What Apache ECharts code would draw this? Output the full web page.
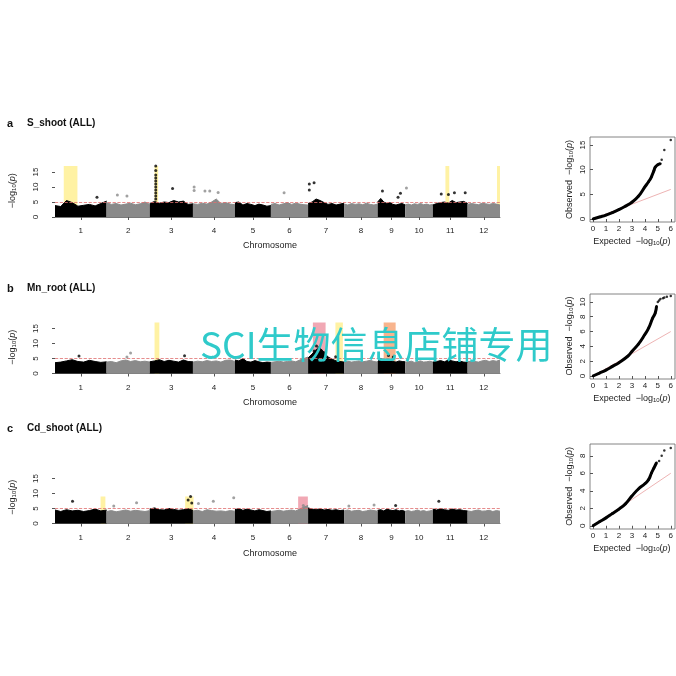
<!DOCTYPE html>
<html>
<head>
<meta charset="utf-8">
<script src="https://cdn.jsdelivr.net/npm/echarts@6/dist/echarts.min.js"></script>
<style>html,body{margin:0;background:#fff}#main{width:676px;height:676px}</style>
</head>
<body>
<div id="main"></div>
<script>
// chromosome lengths (Mb) and labels
const chrNames = ['1','2','3','4','5','6','7','8','9','10','11','12'];
const chrLen = [43, 36, 36, 35, 30, 31, 30, 28, 23, 23, 29, 27];

// top envelope of the dense point band, per chromosome (-log10 p)
const bandA = [
  [3.8,3.5,5.5,4.8,3.6,3.9,4.2,3.7,4.5,5.3],
  [4.8,4.2,4.5,4.0,4.3,4.6,4.1,4.4,5.0,4.2],
  [4.5,5.2,4.6,5.0,4.8,5.5,5.0,5.3,4.2,4.4],
  [4.4,4.2,4.6,4.3,5.0,6.0,4.5,4.8,4.3,4.1],
  [4.8,5.0,4.0,4.5,4.2,3.8,4.3,4.0,3.6,3.8],
  [4.2,4.5,4.0,4.4,4.8,4.2,4.6,4.3,4.1,4.0],
  [4.5,5.0,6.0,5.5,4.8,4.2,4.5,4.0,4.3,4.6],
  [4.3,4.0,4.5,4.2,4.4,4.1,4.6,4.2,4.0,4.3],
  [5.0,6.2,5.0,4.5,4.8,4.2,4.0,4.3,4.5,4.0],
  [4.1,4.3,4.0,4.4,4.2,4.5,4.1,4.3,4.0,4.2],
  [4.0,4.5,4.8,5.0,4.6,5.5,4.8,5.0,5.2,4.5],
  [4.2,4.5,4.3,4.1,4.6,4.4,4.2,4.5,4.3,4.0]
];
const bandB = [
  [3.6,3.8,4.2,4.6,4.0,3.8,4.4,4.0,3.7,3.9],
  [3.8,4.0,3.6,4.2,4.5,4.0,4.3,3.9,4.1,3.8],
  [3.9,4.2,4.6,4.0,4.4,4.1,3.8,4.5,4.0,3.9],
  [3.8,4.1,3.9,4.3,4.0,4.2,3.8,4.4,4.5,4.0],
  [4.5,4.2,5.0,4.0,3.8,4.3,3.9,3.6,3.8,3.7],
  [3.7,3.9,4.1,3.8,4.0,4.2,3.9,4.5,5.0,5.5],
  [5.2,6.5,8.0,8.5,7.0,5.5,4.8,4.2,4.0,3.8],
  [3.9,4.1,3.8,4.0,4.2,3.9,4.1,4.4,4.0,3.8],
  [4.0,5.0,4.5,4.2,4.6,4.0,3.8,4.2,4.0,3.9],
  [3.8,3.9,4.1,3.7,4.0,4.2,3.8,3.9,4.1,3.8],
  [3.8,4.0,4.3,3.9,4.5,4.2,3.9,4.1,3.8,3.7],
  [3.9,4.1,4.0,3.8,4.2,4.4,4.0,4.3,4.1,4.5]
];
const bandC = [
  [4.5,4.0,4.6,4.2,4.4,4.0,4.3,4.8,4.2,4.5],
  [4.0,4.3,3.9,4.2,4.5,4.1,4.4,4.2,4.0,4.3],
  [4.8,5.2,4.6,4.5,5.0,4.7,4.4,4.6,4.9,4.4],
  [4.2,4.4,4.0,4.6,4.3,4.1,4.2,4.0,4.3,4.1],
  [4.6,5.0,4.4,4.8,4.5,4.2,4.6,4.3,4.0,4.2],
  [4.0,4.2,4.4,4.1,4.3,4.5,4.2,4.8,5.5,6.0],
  [5.2,4.8,4.6,4.9,4.5,4.7,4.4,4.6,4.3,4.5],
  [4.2,4.5,4.1,4.3,4.4,4.0,4.2,4.5,4.3,4.1],
  [4.4,4.6,4.2,4.8,4.5,4.3,4.6,4.2,4.4,4.0],
  [4.1,4.3,4.0,4.2,4.5,4.1,4.3,4.0,4.2,4.4],
  [4.8,4.5,5.0,4.6,4.4,4.8,4.5,4.6,4.3,4.2],
  [4.2,4.0,4.3,4.5,4.1,4.2,4.4,4.0,4.3,4.1]
];

// isolated significant points [cumulative Mb, -log10 p]
const hitsA = [[35,6.6],[52,7.3],[60,7.0],[84,17],[84,15.5],[84,14],[84,13],[84,12],[84,11],[84,10],[84,9],[84,8],[84,7],[84,6],
  [98,9.5],[116,10],[116,8.8],[125,8.7],[129,8.7],[136,8.2],[191,8.1],[212,11],[216,11.4],[212,9],[273,8.7],[288,7.9],[286,6.6],[293,9.7],
  [322,7.7],[333,8.1],[342,8.1],[328,7.5]];
const hitsB = [[20,5.8],[60,5.5],[63,6.8],[108,5.9],[216,7.5],[218,9.2],[220,8.6],[222,7.6],[224,7.0],[219,6.5],[217,6.2],[234,5.6],[278,6.0],[282,5.5]];
const hitsC = [[14.6,7.4],[49,5.8],[68,6.9],[113,9.0],[111,7.8],[114,6.8],[119.6,6.7],[132,7.4],[149,8.6],[207,6.0],[245,5.8],[266,6.2],[284,6.0],[320,7.4]];

// highlighted regions [from Mb, to Mb, top, colour]
const boxesA = [[7.3,18.7,17,'y'],[83,86,17,'y'],[325.5,328.7,17,'y'],[368.5,371,17,'y']];
const boxesB = [[83,87,17,'y'],[215,225.6,17,'p'],[233.8,240,17,'y'],[274,284,17,'o']];
const boxesC = [[38,42,9,'y'],[108.5,115.5,9,'y'],[202.7,210.8,9,'p']];

// QQ plots [expected, observed]
const qqA = [[0,0],[0.5,0.4],[1,0.8],[1.5,1.3],[2,1.9],[2.5,2.6],[3,3.4],[3.5,4.6],[4,6.5],[4.3,7.6],[4.5,8.5],[4.7,9.8],[4.8,10.5],[5,11],[5.2,11.2]];
const qqAtop = [[5.3,12],[5.5,14],[6,16]];
const qqB = [[0,0],[0.5,0.4],[1,0.8],[1.5,1.3],[2,1.8],[2.7,2.7],[3,3.3],[3.5,4.3],[4,5.6],[4.3,6.5],[4.6,7.8],[4.8,8.5],[4.9,9.4]];
const qqBtop = [[5,10],[5.1,10.2],[5.2,10.4],[5.4,10.5],[5.5,10.6],[5.7,10.7],[6,10.8]];
const qqC = [[0,0],[0.5,0.45],[1,0.9],[1.5,1.4],[2,1.9],[2.5,2.5],[3,3.4],[3.5,4.2],[4,4.8],[4.3,5.3],[4.5,6],[4.7,6.6],[4.9,7.2]];
const qqCtop = [[5.1,7.4],[5.3,8],[5.5,8.6],[6,8.9]];

const chrStart = [];
chrLen.reduce((s, l, i) => { chrStart[i] = s; return s + l; }, 0);
const total = chrStart[11] + chrLen[11];
const centers = chrLen.map((l, i) => chrStart[i] + l / 2);
const chrOf = x => { let k = 0; chrStart.forEach((s, i) => { if (x >= s) k = i; }); return k; };
const colOf = i => (i % 2 === 0 ? '#000' : '#8a8a8a');
const boxCol = {y: 'rgba(255,232,90,0.55)', p: 'rgba(232,110,130,0.6)', o: 'rgba(245,140,80,0.65)'};
const font = 'Liberation Sans';

const manTops = [164.5, 321, 471];
const qqTops = [140, 296, 447];
const qqH = [79, 80, 78.75];
const qqMax = [16, 10.8, 9];
const qqTicks = [[0,5,10,15],[0,2,4,6,8,10],[0,2,4,6,8]];
const bands = [bandA, bandB, bandC];
const hits = [hitsA, hitsB, hitsC];
const boxes = [boxesA, boxesB, boxesC];
const qqs = [[qqA, qqAtop], [qqB, qqBtop], [qqC, qqCtop]];

let grid = [], xAxis = [], yAxis = [], series = [], graphic = [];
const sub = {sub: {fontSize: 6, verticalAlign: 'bottom', fontFamily: font, color: '#222'}, i: {fontStyle: 'italic', fontSize: 9, fontFamily: font, color: '#222'}};

for (let p = 0; p < 3; p++) {
  const g = grid.length;
  grid.push({left: 43, width: 457, top: manTops[p], height: 52.5});
  xAxis.push({type: 'value', gridIndex: g, min: 0, max: total, offset: 6,
    axisLine: {lineStyle: {color: '#555', width: 0.8}},
    axisTick: {customValues: centers, length: 3, lineStyle: {color: '#555'}},
    axisLabel: {customValues: centers, formatter: v => chrNames[centers.findIndex(c => Math.abs(c - v) < 0.01)], fontSize: 8, color: '#222', fontFamily: font, margin: 4},
    splitLine: {show: false}});
  yAxis.push({type: 'value', gridIndex: g, min: 0, max: 17.5, offset: 12,
    axisLine: {show: false},
    axisTick: {customValues: [0,5,10,15], length: 3, lineStyle: {color: '#555'}},
    axisLabel: {customValues: [0,5,10,15], rotate: 90, fontSize: 8, color: '#222', fontFamily: font, margin: 3},
    splitLine: {show: false},
    name: '−log{sub|10}({i|p})', nameLocation: 'middle', nameRotate: 90, nameGap: 26,
    nameTextStyle: {fontSize: 9, color: '#222', fontFamily: font, rich: sub}});
  bands[p].forEach((h, ci) => {
    const n = h.length;
    series.push({type: 'line', xAxisIndex: g, yAxisIndex: g, symbol: 'none', silent: true, z: 2,
      data: h.map((v, k) => [chrStart[ci] + chrLen[ci] * k / (n - 1), v]),
      lineStyle: {color: colOf(ci), width: 1}, areaStyle: {color: colOf(ci), opacity: 1}});
  });
  series.push({type: 'scatter', xAxisIndex: g, yAxisIndex: g, symbolSize: 3, z: 5,
    data: hits[p].map(d => ({value: d, itemStyle: {color: colOf(chrOf(d[0]))}})),
    markLine: {silent: true, symbol: 'none', label: {show: false}, lineStyle: {color: '#e07070', type: 'dashed', width: 0.8}, data: [{yAxis: 5}]}});
  // overlay of highlighted regions, drawn above the points
  series.push({type: 'scatter', xAxisIndex: g, yAxisIndex: g, data: [], z: 30, zlevel: 1,
    markArea: {silent: true, data: boxes[p].map(b => [{xAxis: b[0], yAxis: 0, itemStyle: {color: boxCol[b[3]]}}, {xAxis: b[1], yAxis: b[2]}])}});

  // QQ plot
  const q = grid.length;
  grid.push({left: 593, width: 79, top: qqTops[p], height: qqH[p]});
  xAxis.push({type: 'value', gridIndex: q, min: 0, max: 6, interval: 1, offset: 3,
    axisLine: {show: false}, axisTick: {length: 3, lineStyle: {color: '#555'}},
    axisLabel: {fontSize: 8, color: '#222', fontFamily: font, margin: 3}, splitLine: {show: false},
    name: 'Expected  −log{sub|10}({i|p})', nameLocation: 'middle', nameGap: 15,
    nameTextStyle: {fontSize: 9, color: '#222', fontFamily: font, rich: sub}});
  yAxis.push({type: 'value', gridIndex: q, min: 0, max: qqMax[p], offset: 3,
    axisLine: {show: false}, axisTick: {customValues: qqTicks[p], length: 3, lineStyle: {color: '#555'}},
    axisLabel: {customValues: qqTicks[p], rotate: 90, fontSize: 8, color: '#222', fontFamily: font, margin: 3}, splitLine: {show: false},
    name: 'Observed  −log{sub|10}({i|p})', nameLocation: 'middle', nameRotate: 90, nameGap: 16,
    nameTextStyle: {fontSize: 9, color: '#222', fontFamily: font, rich: sub}});
  series.push({type: 'line', xAxisIndex: q, yAxisIndex: q, symbol: 'none', silent: true,
    data: [[0,0],[6,6]], lineStyle: {color: '#e8a0a0', width: 0.8}});
  series.push({type: 'line', xAxisIndex: q, yAxisIndex: q, symbol: 'circle', symbolSize: 2.5, smooth: true, silent: true,
    data: qqs[p][0], itemStyle: {color: '#000'}, lineStyle: {color: '#000', width: 3}});
  series.push({type: 'scatter', xAxisIndex: q, yAxisIndex: q, symbolSize: 2.5, silent: true,
    data: qqs[p][1], itemStyle: {color: '#000'}});
}

const titles = [['a', 'S_shoot (ALL)', 118], ['b', 'Mn_root (ALL)', 283], ['c', 'Cd_shoot (ALL)', 423]];
titles.forEach(t => {
  graphic.push({type: 'text', left: 7, top: t[2], style: {text: t[0], font: 'bold 11px ' + font, fill: '#111'}});
  graphic.push({type: 'text', left: 27, top: t[2], style: {text: t[1], font: 'bold 10px ' + font, fill: '#111'}});
});
[241, 398, 549].forEach(y => graphic.push({type: 'text', left: 243, top: y, style: {text: 'Chromosome', font: '9px ' + font, fill: '#222'}}));
[[590,137],[590,294],[590,444]].forEach(b => graphic.push({type: 'rect', shape: {x: b[0], y: b[1], width: 85, height: 85},
  style: {fill: 'none', stroke: '#666', lineWidth: 0.8}}));
graphic.push({type: 'text', left: 200, top: 326, z: 100, zlevel: 2, style: {text: 'SCI生物信息店铺专用', font: '37px "Noto Sans CJK SC"', fill: '#2fcaca'}});

const chart = echarts.init(document.getElementById('main'), null, {renderer: 'canvas'});
chart.setOption({animation: false, backgroundColor: '#fff', grid, xAxis, yAxis, series, graphic});
</script>
</body>
</html>
